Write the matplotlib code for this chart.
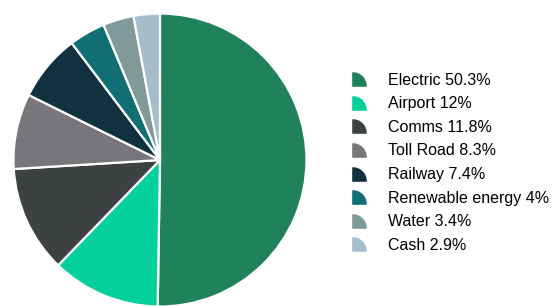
import matplotlib
matplotlib.use("Agg")
import matplotlib.pyplot as plt
from matplotlib.lines import Line2D
from matplotlib.path import Path

plt.rcParams['font.family'] = ['Liberation Sans', 'DejaVu Sans']

# sector weights
sectors = ['Electric', 'Airport', 'Comms', 'Toll Road', 'Railway',
           'Renewable energy', 'Water', 'Cash']
shares = [50.3, 12, 11.8, 8.3, 7.4, 4, 3.4, 2.9]
share_labels = ['50.3%', '12%', '11.8%', '8.3%', '7.4%', '4%', '3.4%', '2.9%']
colors = ['#20825C', '#03D09A', '#3D4142', '#75777A', '#113040',
          '#116E74', '#809999', '#A6BDCC']

fig = plt.figure(figsize=(5.55, 3.06), dpi=100)
ax = fig.add_axes([0.0216, -0.0065, 0.5333, 0.967])
ax.pie(shares, colors=colors, startangle=90, counterclock=False,
       wedgeprops=dict(edgecolor='white', linewidth=1.6))
ax.set_xlim(-1.01, 1.01)
ax.set_ylim(-1.01, 1.01)
ax.set_aspect('equal')

# quarter circle marker like the legend icons, centred on the handle
w = Path.wedge(0, 90)
quarter = Path(w.vertices - 0.5, w.codes)
handles = [Line2D([], [], linestyle='none', marker=quarter, markersize=9.5,
                  markerfacecolor=c, markeredgecolor=c)
           for c in colors]
labels = [f'{s} {l}' for s, l in zip(sectors, share_labels)]
fig.legend(handles, labels, loc='center left', bbox_to_anchor=(0.6306, 0.468),
           frameon=False, fontsize=11.5, handlelength=1.15, handletextpad=1.25,
           labelspacing=0.54, borderaxespad=0, borderpad=0)

fig.savefig('out.png', dpi=100)
